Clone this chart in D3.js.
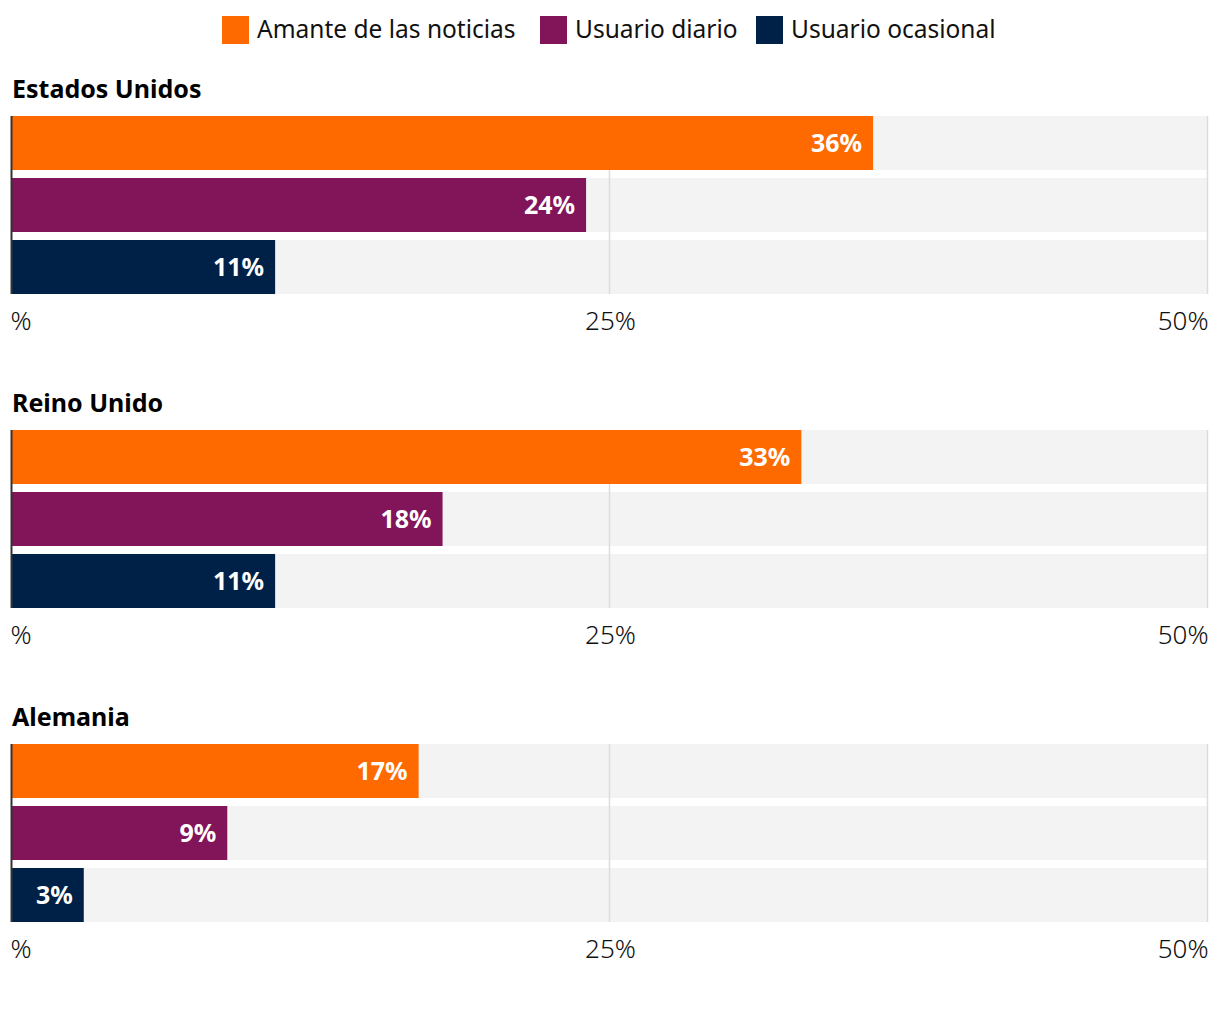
<!DOCTYPE html>
<html>
<head>
<meta charset="utf-8">
<script src="https://cdn.jsdelivr.net/npm/d3@7"></script>
<style>
  body { margin: 0; background: #fff; }
  text { font-family: "Noto Sans", "Open Sans", sans-serif; }
</style>
</head>
<body>
<svg id="chart" width="1220" height="1016"></svg>
<script>
// Datos
const paises = ["Estados Unidos", "Reino Unido", "Alemania"];
const series = ["Amante de las noticias", "Usuario diario", "Usuario ocasional"];
const amante = [36, 33, 17];
const diario = [24, 18, 9];
const ocasional = [11, 11, 3];
const ticks = [0, 25, 50];
const tickLabels = ["%", "25%", "50%"];
const colores = ["#ff6a00", "#82145a", "#002147"];

const svg = d3.select("#chart");
const width = +svg.attr("width");
const margin = {left: 12, right: 12};

const x = d3.scaleLinear().domain([0, 50]).range([margin.left, width - margin.right]);
const color = d3.scaleOrdinal().domain(series).range(colores);

// Leyenda
const legendX = [222, 540, 756];
const legend = svg.append("g");
series.forEach((s, i) => {
  legend.append("rect")
    .attr("x", legendX[i]).attr("y", 16)
    .attr("width", 27).attr("height", 28)
    .attr("fill", color(s));
  legend.append("text")
    .attr("x", legendX[i] + 35).attr("y", 38)
    .attr("font-size", 24.5)
    .attr("fill", "#111")
    .text(s);
});

const valores = [amante, diario, ocasional];
const panelTop = 116, panelStep = 314, panelH = 178;

paises.forEach((p, pi) => {
  const top = panelTop + pi * panelStep;
  const g = svg.append("g");
  const filas = series.map((s, si) => ({serie: s, valor: valores[si][pi]}));

  const y = d3.scaleBand()
    .domain(series)
    .range([top, top + panelH])
    .paddingInner(8 / 62)
    .paddingOuter(0);

  // Título
  g.append("text")
    .attr("x", 12).attr("y", top - 18)
    .attr("font-size", 25).attr("font-weight", "bold")
    .attr("fill", "#000")
    .text(p);

  // Fondo
  g.selectAll(".bg").data(filas).join("rect")
    .attr("x", x(0)).attr("y", d => y(d.serie))
    .attr("width", x(50) - x(0)).attr("height", y.bandwidth())
    .attr("fill", "#f3f3f3");

  // Cuadrícula
  g.selectAll(".grid").data(ticks.slice(1)).join("line")
    .attr("x1", d => x(d) - 0.5).attr("x2", d => x(d) - 0.5)
    .attr("y1", top).attr("y2", top + panelH)
    .attr("stroke", "#dcdcdc").attr("stroke-width", 1.5);

  // Barras
  g.selectAll(".bar").data(filas).join("rect")
    .attr("x", x(0)).attr("y", d => y(d.serie))
    .attr("width", d => x(d.valor) - x(0)).attr("height", y.bandwidth())
    .attr("fill", d => color(d.serie));

  // Etiquetas
  g.selectAll(".label").data(filas).join("text")
    .attr("x", d => x(d.valor) - 11)
    .attr("y", d => y(d.serie) + y.bandwidth() / 2 + 9)
    .attr("text-anchor", "end")
    .attr("font-size", 25).attr("font-weight", "bold")
    .attr("fill", "#fff")
    .text(d => d.valor + "%");

  // Eje
  g.append("line")
    .attr("x1", x(0) - 0.5).attr("x2", x(0) - 0.5)
    .attr("y1", top).attr("y2", top + panelH)
    .attr("stroke", "#333").attr("stroke-width", 2);

  const axis = g.append("g")
    .attr("transform", `translate(0,${top + panelH})`)
    .call(d3.axisBottom(x).tickValues(ticks).tickSize(0).tickPadding(0)
      .tickFormat((d, i) => tickLabels[i]));
  axis.select(".domain").remove();
  axis.selectAll("text")
    .attr("y", 36).attr("dy", null)
    .attr("font-size", 26)
    .attr("font-family", "'Noto Sans', sans-serif")
    .attr("font-weight", 300)
    .attr("fill", "#111")
    .attr("text-anchor", (d, i) => i === 0 ? "start" : i === ticks.length - 1 ? "end" : "middle")
    .attr("dx", (d, i) => i === 0 ? -2 : 0);
});
</script>
</body>
</html>
